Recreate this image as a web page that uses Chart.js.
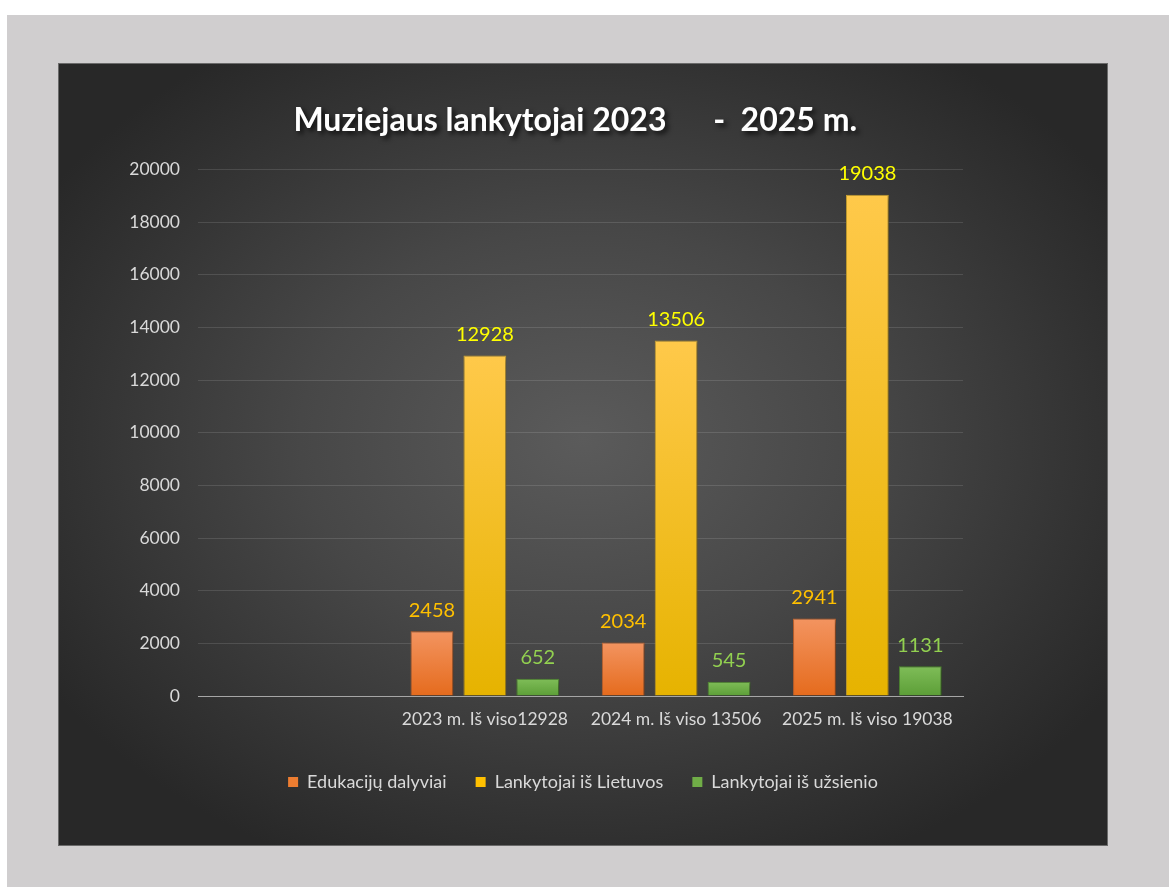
<!DOCTYPE html>
<html>
<head>
<meta charset="utf-8">
<script src="https://cdn.jsdelivr.net/npm/chart.js@4.4.1/dist/chart.umd.min.js"></script>
<style>
  html, body { margin: 0; padding: 0; background: #ffffff; }
  #frame {
    position: absolute; left: 7px; top: 15px; width: 1162px; height: 872px;
    background: #d0cecf;
  }
  #panel {
    position: absolute; left: 59px; top: 64px; width: 1048px; height: 781px;
    background: radial-gradient(ellipse 60% 60% at 50% 48%, #5b5b5b 0%, #474747 45%, #333333 80%, #282828 100%);
    box-shadow: 0 0 0 1px #6a6a6a;
  }
</style>
</head>
<body>
<div id="frame"></div>
<div id="panel"><canvas id="visitorsChart"></canvas></div>
<script>
// --- DATA ---
const categories = ["", "2023 m. Iš viso12928", "2024 m. Iš viso 13506", "2025 m. Iš viso 19038"];
const seriesNames = ["Edukacijų dalyviai", "Lankytojai iš Lietuvos", "Lankytojai iš užsienio"];
const educationValues = [null, 2458, 2034, 2941];
const lithuaniaValues = [null, 12928, 13506, 19038];
const foreignValues = [null, 652, 545, 1131];
const yTicks = [0, 2000, 4000, 6000, 8000, 10000, 12000, 14000, 16000, 18000, 20000];
const chartTitle = "Muziejaus lankytojai 2023      -  2025 m.  ";

const FONT = "Lato, 'Open Sans', sans-serif";

// gradient per bar, light at the top, darker at the bottom
function barGradient(top, bottom) {
  return (context) => {
    const chart = context.chart;
    const y = chart.scales.y;
    if (!chart.chartArea || !y || context.raw == null) return bottom;
    const y0 = y.getPixelForValue(0);
    const y1 = y.getPixelForValue(context.raw);
    if (!isFinite(y0) || !isFinite(y1) || y0 === y1) return bottom;
    const g = chart.ctx.createLinearGradient(0, y1, 0, y0);
    g.addColorStop(0, top);
    g.addColorStop(1, bottom);
    return g;
  };
}

// --- PLUGINS ---
const titleShadow = {
  id: "titleShadow",
  beforeDraw(chart) {
    const t = chart.titleBlock;
    if (!t || t._wrapped) return;
    const orig = t.draw.bind(t);
    t.draw = function () {
      const ctx = chart.ctx;
      ctx.save();
      ctx.shadowColor = "rgba(0,0,0,0.75)";
      ctx.shadowBlur = 5;
      ctx.shadowOffsetX = 3;
      ctx.shadowOffsetY = 3;
      orig();
      ctx.restore();
    };
    t._wrapped = true;
  },
};

const barShadow = {
  id: "barShadow",
  beforeDatasetsDraw(chart) {
    const ctx = chart.ctx;
    ctx.save();
    ctx.shadowColor = "rgba(0,0,0,0.45)";
    ctx.shadowBlur = 5;
    ctx.shadowOffsetX = 2;
    ctx.shadowOffsetY = 2;
  },
  afterDatasetsDraw(chart) {
    chart.ctx.restore();
  },
};

const valueLabels = {
  id: "valueLabels",
  afterDatasetsDraw(chart) {
    const ctx = chart.ctx;
    ctx.save();
    ctx.font = "20px " + FONT;
    ctx.textAlign = "center";
    ctx.textBaseline = "middle";
    chart.data.datasets.forEach((ds, i) => {
      const meta = chart.getDatasetMeta(i);
      ctx.fillStyle = ds.labelColor;
      meta.data.forEach((el, j) => {
        const v = ds.data[j];
        if (v == null) return;
        ctx.fillText(String(v), el.x, el.y - 21);
      });
    });
    ctx.restore();
  },
};

// --- CHART ---
const ctx = document.getElementById("visitorsChart").getContext("2d");
new Chart(ctx, {
  type: "bar",
  data: {
    labels: categories,
    datasets: [
      {
        label: seriesNames[0],
        data: educationValues,
        backgroundColor: barGradient("#f39460", "#e56b1d"),
        borderColor: "#c8652c",
        borderWidth: 1,
        labelColor: "#ffc000",
      },
      {
        label: seriesNames[1],
        data: lithuaniaValues,
        backgroundColor: barGradient("#ffc94a", "#e6b300"),
        borderColor: "#c9a230",
        borderWidth: 1,
        labelColor: "#ffff00",
      },
      {
        label: seriesNames[2],
        data: foreignValues,
        backgroundColor: barGradient("#7fbd58", "#5c9e37"),
        borderColor: "#4f8a2f",
        borderWidth: 1,
        labelColor: "#92d050",
      },
    ],
  },
  options: {
    responsive: true,
    maintainAspectRatio: false,
    animation: false,
    categoryPercentage: 0.83,
    barPercentage: 0.81,
    layout: { padding: { top: 0, left: 0, right: 0, bottom: 44 } },
    plugins: {
      title: {
        display: true,
        text: chartTitle,
        color: "#ffffff",
        font: { family: FONT, size: 32, weight: "bold", lineHeight: 1.2 },
        padding: { top: 37, bottom: 30 },
      },
      legend: {
        position: "bottom",
        labels: {
          color: "#d9d9d9",
          font: { family: FONT, size: 18 },
          boxWidth: 10,
          boxHeight: 10,
          padding: 29,
          generateLabels(chart) {
            const fills = ["#ed7d31", "#ffc000", "#70ad47"];
            return chart.data.datasets.map((ds, i) => ({
              text: ds.label,
              fillStyle: fills[i],
              strokeStyle: fills[i],
              lineWidth: 0,
              fontColor: "#d9d9d9",
              datasetIndex: i,
              hidden: false,
            }));
          },
        },
      },
      tooltip: { enabled: false },
    },
    scales: {
      x: {
        grid: { display: false, drawTicks: false },
        border: { display: true, color: "#a6a6a6", width: 1 },
        ticks: { color: "#d9d9d9", font: { family: FONT, size: 17.5 }, padding: 13, maxRotation: 0 },
        afterFit(scale) { scale.height = 48; },
      },
      y: {
        min: 0,
        max: 20000,
        afterBuildTicks(scale) { scale.ticks = yTicks.map((v) => ({ value: v })); },
        grid: { color: "rgba(255,255,255,0.12)", drawTicks: false },
        border: { display: false },
        ticks: {
          color: "#d9d9d9",
          font: { family: FONT, size: 17.5 },
          padding: 18,
          callback: (v) => String(v),
        },
        afterFit(scale) { scale.width = 139; },
      },
      yRight: {
        position: "right",
        display: true,
        grid: { display: false, drawTicks: false },
        border: { display: false },
        ticks: { display: false },
        afterFit(scale) { scale.width = 144; },
      },
    },
  },
  plugins: [titleShadow, barShadow, valueLabels],
});
</script>
</body>
</html>
